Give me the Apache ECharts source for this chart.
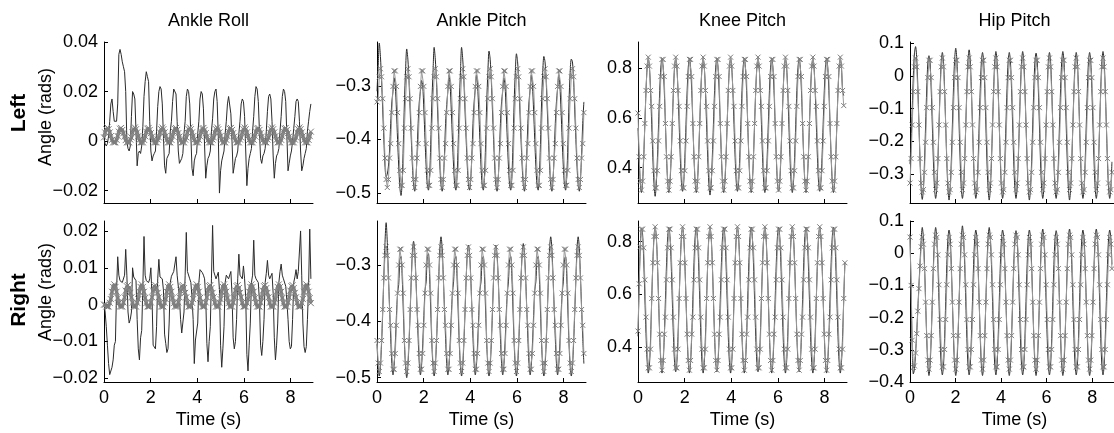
<!DOCTYPE html>
<html>
<head>
<meta charset="utf-8">
<script src="https://cdn.jsdelivr.net/npm/echarts@6/dist/echarts.min.js"></script>
<style>
html, body {margin: 0; padding: 0; background: #fff;}
#chart {width: 1114px; height: 433px;}
</style>
</head>
<body>
<div id="chart"></div>
<script>
// sample step in seconds (about 12 samples per gait cycle)
const dt = 0.049;

const columnTitles = ['Ankle Roll', 'Ankle Pitch', 'Knee Pitch', 'Hip Pitch'];
const rowTitles = ['Left', 'Right'];
const timeTicks = [0, 2, 4, 6, 8];

// ---- Ankle roll (rad) ----
const ankleRollLeftRef = [
  0.0015, 0.0035, 0.0048, 0.0055, 0.0048, 0.0035, 0.002, 0.0005, -0.0005, -0.0005, -0.0005, 0.0005,
  0.002, 0.0038, 0.005, 0.0053, 0.0045, 0.0032, 0.0018, 0.0004, -0.0005, -0.0005, -0.0005, 0.0006,
  0.0015, 0.0035, 0.0048, 0.0055, 0.0048, 0.0035, 0.002, 0.0005, -0.0005, -0.0005, -0.0005, 0.0005,
  0.002, 0.0038, 0.005, 0.0053, 0.0045, 0.0032, 0.0018, 0.0004, -0.0005, -0.0005, -0.0005, 0.0006,
  0.0015, 0.0035, 0.0048, 0.0055, 0.0048, 0.0035, 0.002, 0.0005, -0.0005, -0.0005, -0.0005, 0.0005,
  0.002, 0.0038, 0.005, 0.0053, 0.0045, 0.0032, 0.0018, 0.0004, -0.0005, -0.0005, -0.0005, 0.0006,
  0.0015, 0.0035, 0.0048, 0.0055, 0.0048, 0.0035, 0.002, 0.0005, -0.0005, -0.0005, -0.0005, 0.0005,
  0.002, 0.0038, 0.005, 0.0053, 0.0045, 0.0032, 0.0018, 0.0004, -0.0005, -0.0005, -0.0005, 0.0006,
  0.0015, 0.0035, 0.0048, 0.0055, 0.0048, 0.0035, 0.002, 0.0005, -0.0005, -0.0005, -0.0005, 0.0005,
  0.002, 0.0038, 0.005, 0.0053, 0.0045, 0.0032, 0.0018, 0.0004, -0.0005, -0.0005, -0.0005, 0.0006,
  0.0015, 0.0035, 0.0048, 0.0055, 0.0048, 0.0035, 0.002, 0.0005, -0.0005, -0.0005, -0.0005, 0.0005,
  0.002, 0.0038, 0.005, 0.0053, 0.0045, 0.0032, 0.0018, 0.0004, -0.0005, -0.0005, -0.0005, 0.0006,
  0.0015, 0.0035, 0.0048, 0.0055, 0.0048, 0.0035, 0.002, 0.0005, -0.0005, -0.0005, -0.0005, 0.0005,
  0.002, 0.0038, 0.005, 0.0053, 0.0045, 0.0032, 0.0018, 0.0004, -0.0005, -0.0005, -0.0005, 0.0006,
  0.0015, 0.0035, 0.0048, 0.0055, 0.0048, 0.0035, 0.002, 0.0005, -0.0005, -0.0005, -0.0005, 0.0005,
  0.002, 0.0038
];
const ankleRollLeftAct = [
  0.001, -0.001, -0.002, -0.001, 0.002, 0.008, 0.015, 0.017, 0.012, 0.008, 0.0075, 0.008,
  0.015, 0.035, 0.037, 0.035, 0.032, 0.030, 0.028, 0.020, 0.000, -0.003, -0.004, -0.002,
  0.010, 0.020, 0.019, 0.017, 0.004, -0.010, -0.005, -0.004, -0.005, -0.002, 0.006, 0.018,
  0.024, 0.028, 0.026, 0.024, 0.008, -0.004, -0.008, -0.006, -0.005, -0.004, 0.004, 0.014,
  0.020, 0.022, 0.021, 0.015, 0.002, -0.010, -0.013, -0.007, -0.006, -0.005, 0.004, 0.008,
  0.016, 0.021, 0.021, 0.019, 0.008, -0.004, -0.009, -0.009, -0.007, -0.005, 0.003, 0.008,
  0.018, 0.021, 0.020, 0.015, 0.002, -0.011, -0.014, -0.008, -0.006, -0.005, 0.003, 0.008,
  0.017, 0.020, 0.019, 0.013, -0.002, -0.015, -0.010, -0.007, -0.006, -0.004, 0.004, 0.009,
  0.017, 0.020, 0.021, 0.016, 0.002, -0.021, -0.012, -0.008, -0.006, -0.004, 0.003, 0.008,
  0.015, 0.018, 0.018, 0.011, 0.000, -0.013, -0.010, -0.007, -0.006, -0.004, 0.003, 0.008,
  0.015, 0.017, 0.016, 0.010, -0.004, -0.018, -0.011, -0.007, -0.005, -0.003, 0.004, 0.010,
  0.018, 0.022, 0.021, 0.016, 0.004, -0.007, -0.009, -0.006, -0.005, -0.003, 0.004, 0.012,
  0.018, 0.019, 0.017, 0.008, -0.006, -0.015, -0.009, -0.006, -0.005, -0.003, 0.004, 0.010,
  0.018, 0.021, 0.020, 0.016, 0.002, -0.012, -0.009, -0.006, -0.004, 0.000, 0.005, 0.010,
  0.016, 0.017, 0.016, 0.008, -0.004, -0.012, -0.010, -0.007, -0.005, -0.003, 0.004, 0.008,
  0.012, 0.015
];
const ankleRollRightRef = [
  0, 0, -0.0005, -0.0005, -0.0005, 0.0005, 0.0015, 0.0035, 0.0048, 0.0055, 0.0048, 0.0035,
  0.0018, 0.0004, -0.0005, -0.0005, -0.0005, 0.0006, 0.002, 0.0038, 0.005, 0.0053, 0.0045, 0.0032,
  0.002, 0.0005, -0.0005, -0.0005, -0.0005, 0.0005, 0.0015, 0.0035, 0.0048, 0.0055, 0.0048, 0.0035,
  0.0018, 0.0004, -0.0005, -0.0005, -0.0005, 0.0006, 0.002, 0.0038, 0.005, 0.0053, 0.0045, 0.0032,
  0.002, 0.0005, -0.0005, -0.0005, -0.0005, 0.0005, 0.0015, 0.0035, 0.0048, 0.0055, 0.0048, 0.0035,
  0.0018, 0.0004, -0.0005, -0.0005, -0.0005, 0.0006, 0.002, 0.0038, 0.005, 0.0053, 0.0045, 0.0032,
  0.002, 0.0005, -0.0005, -0.0005, -0.0005, 0.0005, 0.0015, 0.0035, 0.0048, 0.0055, 0.0048, 0.0035,
  0.0018, 0.0004, -0.0005, -0.0005, -0.0005, 0.0006, 0.002, 0.0038, 0.005, 0.0053, 0.0045, 0.0032,
  0.002, 0.0005, -0.0005, -0.0005, -0.0005, 0.0005, 0.0015, 0.0035, 0.0048, 0.0055, 0.0048, 0.0035,
  0.0018, 0.0004, -0.0005, -0.0005, -0.0005, 0.0006, 0.002, 0.0038, 0.005, 0.0053, 0.0045, 0.0032,
  0.002, 0.0005, -0.0005, -0.0005, -0.0005, 0.0005, 0.0015, 0.0035, 0.0048, 0.0055, 0.0048, 0.0035,
  0.0018, 0.0004, -0.0005, -0.0005, -0.0005, 0.0006, 0.002, 0.0038, 0.005, 0.0053, 0.0045, 0.0032,
  0.002, 0.0005, -0.0005, -0.0005, -0.0005, 0.0005, 0.0015, 0.0035, 0.0048, 0.0055, 0.0048, 0.0035,
  0.0018, 0.0004, -0.0005, -0.0005, -0.0005, 0.0006, 0.002, 0.0038, 0.005, 0.0053, 0.0045, 0.0032,
  0.002, 0.0005, -0.0005, -0.0005, -0.0005, 0.0005, 0.0015, 0.0035, 0.0048, 0.0055, 0.0048, 0.0035,
  0.0018, 0.0004
];
const ankleRollRightAct = [
  0.000, -0.002, -0.006, -0.011, -0.016, -0.019, -0.0195, -0.017, -0.015, -0.011, -0.010, 0.004,
  0.013, 0.008, 0.0065, 0.0065, 0.006, 0.006, 0.008, 0.015, 0.008, -0.002, -0.005, -0.004,
  -0.002, 0.010, 0.0075, 0.007, 0.0065, -0.004, -0.012, -0.015, -0.009, -0.007, 0.005, 0.0185,
  0.008, 0.0065, 0.006, 0.006, 0.007, 0.010, 0.002, -0.011, -0.011, -0.012, -0.006, 0.007,
  0.0123, 0.0075, 0.0073, 0.007, 0.004, -0.008, -0.0105, -0.013, -0.012, -0.005, 0.006, 0.0077,
  0.008, 0.009, 0.0095, 0.013, 0.008, 0.008, 0.002, -0.004, -0.0077, -0.0077, -0.002, 0.008,
  0.0196, 0.009, 0.0088, 0.007, 0.006, 0.002, -0.004, -0.016, -0.0096, -0.0096, -0.005, 0.006,
  0.0095, 0.010, 0.0087, 0.008, 0.007, 0.002, -0.0105, -0.0155, -0.010, -0.006, 0.007, 0.0215,
  0.009, 0.008, 0.007, 0.0075, 0.0088, 0.004, -0.011, -0.017, -0.012, -0.006, 0.006, 0.008,
  0.0075, 0.007, 0.0075, 0.009, 0.003, -0.009, -0.012, -0.010, -0.004, 0.007, 0.0137, 0.008,
  0.0075, 0.007, 0.0105, 0.007, 0.002, -0.0135, -0.018, -0.011, -0.005, 0.006, 0.008, 0.0175,
  0.008, 0.007, 0.0075, 0.006, 0.001, -0.011, -0.0138, -0.010, -0.004, 0.006, 0.0085, 0.012,
  0.008, 0.007, 0.007, 0.0085, 0.003, -0.009, -0.015, -0.011, -0.005, 0.006, 0.009, 0.011,
  0.008, 0.007, 0.0065, 0.005, 0.001, -0.004, -0.010, -0.012, -0.0114, -0.004, 0.006, 0.0075,
  0.0095, 0.007, 0.009, 0.0095, 0.020, 0.008, -0.005, -0.0114, -0.013, -0.0114, -0.004, 0.005,
  0.0205, 0.007
];

// ---- Ankle pitch (rad) ----
const anklePitchLeftRef = [
  -0.33, -0.324, -0.283, -0.268, -0.283, -0.324, -0.379, -0.435, -0.475, -0.49, -0.475, -0.435,
  -0.408, -0.35, -0.301, -0.272, -0.272, -0.301, -0.35, -0.408, -0.458, -0.486, -0.486, -0.458,
  -0.379, -0.324, -0.283, -0.268, -0.283, -0.324, -0.379, -0.435, -0.475, -0.49, -0.475, -0.435,
  -0.408, -0.35, -0.301, -0.272, -0.272, -0.301, -0.35, -0.408, -0.458, -0.486, -0.486, -0.458,
  -0.379, -0.324, -0.283, -0.268, -0.283, -0.324, -0.379, -0.435, -0.475, -0.49, -0.475, -0.435,
  -0.408, -0.35, -0.301, -0.272, -0.272, -0.301, -0.35, -0.408, -0.458, -0.486, -0.486, -0.458,
  -0.379, -0.324, -0.283, -0.268, -0.283, -0.324, -0.379, -0.435, -0.475, -0.49, -0.475, -0.435,
  -0.408, -0.35, -0.301, -0.272, -0.272, -0.301, -0.35, -0.408, -0.458, -0.486, -0.486, -0.458,
  -0.379, -0.324, -0.283, -0.268, -0.283, -0.324, -0.379, -0.435, -0.475, -0.49, -0.475, -0.435,
  -0.408, -0.35, -0.301, -0.272, -0.272, -0.301, -0.35, -0.408, -0.458, -0.486, -0.486, -0.458,
  -0.379, -0.324, -0.283, -0.268, -0.283, -0.324, -0.379, -0.435, -0.475, -0.49, -0.475, -0.435,
  -0.408, -0.35, -0.301, -0.272, -0.272, -0.301, -0.35, -0.408, -0.458, -0.486, -0.486, -0.458,
  -0.379, -0.324, -0.283, -0.268, -0.283, -0.324, -0.379, -0.435, -0.475, -0.49, -0.475, -0.435,
  -0.408, -0.35, -0.301, -0.272, -0.272, -0.301, -0.35, -0.408, -0.458, -0.486, -0.486, -0.458,
  -0.379, -0.324, -0.283, -0.268, -0.283, -0.324, -0.379, -0.435, -0.475, -0.49, -0.475, -0.435,
  -0.408, -0.35
];
const anklePitchLeftAct = [
  -0.31, -0.265, -0.22, -0.245, -0.29, -0.345, -0.40, -0.45, -0.47, -0.465, -0.45, -0.42,
  -0.37, -0.33, -0.31, -0.285, -0.30, -0.345, -0.40, -0.45, -0.49, -0.505, -0.48, -0.41,
  -0.33, -0.27, -0.231, -0.25, -0.29, -0.345, -0.40, -0.45, -0.485, -0.497, -0.475, -0.43,
  -0.37, -0.33, -0.31, -0.29, -0.30, -0.345, -0.40, -0.45, -0.485, -0.495, -0.47, -0.41,
  -0.33, -0.275, -0.228, -0.25, -0.29, -0.345, -0.40, -0.45, -0.485, -0.497, -0.475, -0.43,
  -0.37, -0.335, -0.31, -0.28, -0.30, -0.345, -0.40, -0.45, -0.485, -0.495, -0.47, -0.41,
  -0.33, -0.275, -0.228, -0.25, -0.29, -0.345, -0.40, -0.45, -0.485, -0.495, -0.475, -0.43,
  -0.37, -0.33, -0.305, -0.28, -0.30, -0.345, -0.40, -0.45, -0.485, -0.495, -0.47, -0.41,
  -0.33, -0.275, -0.235, -0.25, -0.29, -0.345, -0.40, -0.45, -0.485, -0.497, -0.475, -0.43,
  -0.37, -0.33, -0.31, -0.285, -0.30, -0.345, -0.40, -0.45, -0.485, -0.495, -0.47, -0.41,
  -0.33, -0.275, -0.24, -0.255, -0.29, -0.345, -0.40, -0.45, -0.485, -0.497, -0.475, -0.43,
  -0.37, -0.33, -0.305, -0.28, -0.30, -0.345, -0.40, -0.45, -0.485, -0.495, -0.47, -0.41,
  -0.33, -0.275, -0.245, -0.255, -0.29, -0.345, -0.40, -0.45, -0.485, -0.497, -0.475, -0.43,
  -0.37, -0.33, -0.305, -0.28, -0.30, -0.345, -0.40, -0.45, -0.485, -0.495, -0.47, -0.41,
  -0.33, -0.275, -0.25, -0.255, -0.29, -0.345, -0.40, -0.45, -0.485, -0.497, -0.475, -0.43,
  -0.37, -0.33
];
const anklePitchRightRef = [
  -0.434, -0.474, -0.489, -0.474, -0.434, -0.379, -0.323, -0.283, -0.268, -0.283, -0.323, -0.379,
  -0.407, -0.457, -0.485, -0.485, -0.457, -0.407, -0.35, -0.3, -0.272, -0.272, -0.3, -0.35,
  -0.434, -0.474, -0.489, -0.474, -0.434, -0.379, -0.323, -0.283, -0.268, -0.283, -0.323, -0.379,
  -0.407, -0.457, -0.485, -0.485, -0.457, -0.407, -0.35, -0.3, -0.272, -0.272, -0.3, -0.35,
  -0.434, -0.474, -0.489, -0.474, -0.434, -0.379, -0.323, -0.283, -0.268, -0.283, -0.323, -0.379,
  -0.407, -0.457, -0.485, -0.485, -0.457, -0.407, -0.35, -0.3, -0.272, -0.272, -0.3, -0.35,
  -0.434, -0.474, -0.489, -0.474, -0.434, -0.379, -0.323, -0.283, -0.268, -0.283, -0.323, -0.379,
  -0.407, -0.457, -0.485, -0.485, -0.457, -0.407, -0.35, -0.3, -0.272, -0.272, -0.3, -0.35,
  -0.434, -0.474, -0.489, -0.474, -0.434, -0.379, -0.323, -0.283, -0.268, -0.283, -0.323, -0.379,
  -0.407, -0.457, -0.485, -0.485, -0.457, -0.407, -0.35, -0.3, -0.272, -0.272, -0.3, -0.35,
  -0.434, -0.474, -0.489, -0.474, -0.434, -0.379, -0.323, -0.283, -0.268, -0.283, -0.323, -0.379,
  -0.407, -0.457, -0.485, -0.485, -0.457, -0.407, -0.35, -0.3, -0.272, -0.272, -0.3, -0.35,
  -0.434, -0.474, -0.489, -0.474, -0.434, -0.379, -0.323, -0.283, -0.268, -0.283, -0.323, -0.379,
  -0.407, -0.457, -0.485, -0.485, -0.457, -0.407, -0.35, -0.3, -0.272, -0.272, -0.3, -0.35,
  -0.434, -0.474, -0.489, -0.474, -0.434, -0.379, -0.323, -0.283, -0.268, -0.283, -0.323, -0.379,
  -0.407, -0.457
];
const anklePitchRightAct = [
  -0.44, -0.48, -0.497, -0.48, -0.44, -0.385, -0.32, -0.26, -0.225, -0.26, -0.32, -0.375,
  -0.43, -0.475, -0.495, -0.478, -0.44, -0.39, -0.35, -0.335, -0.29, -0.285, -0.32, -0.38,
  -0.44, -0.48, -0.5, -0.48, -0.44, -0.385, -0.325, -0.275, -0.258, -0.275, -0.32, -0.375,
  -0.43, -0.475, -0.495, -0.478, -0.44, -0.39, -0.345, -0.33, -0.285, -0.28, -0.32, -0.38,
  -0.44, -0.48, -0.497, -0.48, -0.44, -0.385, -0.325, -0.27, -0.25, -0.27, -0.32, -0.375,
  -0.43, -0.475, -0.495, -0.478, -0.44, -0.39, -0.35, -0.33, -0.29, -0.285, -0.32, -0.38,
  -0.44, -0.48, -0.497, -0.48, -0.44, -0.385, -0.325, -0.28, -0.265, -0.28, -0.32, -0.375,
  -0.43, -0.475, -0.495, -0.478, -0.44, -0.39, -0.345, -0.33, -0.29, -0.285, -0.32, -0.38,
  -0.44, -0.48, -0.497, -0.48, -0.44, -0.385, -0.325, -0.28, -0.265, -0.28, -0.32, -0.375,
  -0.43, -0.475, -0.495, -0.478, -0.44, -0.39, -0.35, -0.33, -0.29, -0.285, -0.32, -0.38,
  -0.44, -0.48, -0.497, -0.48, -0.44, -0.385, -0.325, -0.28, -0.262, -0.28, -0.32, -0.375,
  -0.43, -0.475, -0.495, -0.478, -0.44, -0.39, -0.345, -0.33, -0.29, -0.285, -0.32, -0.38,
  -0.44, -0.48, -0.497, -0.48, -0.44, -0.385, -0.325, -0.27, -0.25, -0.27, -0.32, -0.375,
  -0.43, -0.475, -0.495, -0.478, -0.44, -0.39, -0.35, -0.33, -0.29, -0.285, -0.32, -0.38,
  -0.44, -0.48, -0.497, -0.48, -0.44, -0.385, -0.325, -0.27, -0.25, -0.27, -0.32, -0.375,
  -0.43, -0.475
];

// ---- Knee pitch (rad) ----
const kneePitchLeftRef = [
  0.62, 0.444, 0.346, 0.31, 0.346, 0.444, 0.578, 0.711, 0.809, 0.845, 0.809, 0.711,
  0.647, 0.508, 0.388, 0.319, 0.319, 0.388, 0.508, 0.647, 0.767, 0.836, 0.836, 0.767,
  0.578, 0.444, 0.346, 0.31, 0.346, 0.444, 0.578, 0.711, 0.809, 0.845, 0.809, 0.711,
  0.647, 0.508, 0.388, 0.319, 0.319, 0.388, 0.508, 0.647, 0.767, 0.836, 0.836, 0.767,
  0.578, 0.444, 0.346, 0.31, 0.346, 0.444, 0.578, 0.711, 0.809, 0.845, 0.809, 0.711,
  0.647, 0.508, 0.388, 0.319, 0.319, 0.388, 0.508, 0.647, 0.767, 0.836, 0.836, 0.767,
  0.578, 0.444, 0.346, 0.31, 0.346, 0.444, 0.578, 0.711, 0.809, 0.845, 0.809, 0.711,
  0.647, 0.508, 0.388, 0.319, 0.319, 0.388, 0.508, 0.647, 0.767, 0.836, 0.836, 0.767,
  0.578, 0.444, 0.346, 0.31, 0.346, 0.444, 0.578, 0.711, 0.809, 0.845, 0.809, 0.711,
  0.647, 0.508, 0.388, 0.319, 0.319, 0.388, 0.508, 0.647, 0.767, 0.836, 0.836, 0.767,
  0.578, 0.444, 0.346, 0.31, 0.346, 0.444, 0.578, 0.711, 0.809, 0.845, 0.809, 0.711,
  0.647, 0.508, 0.388, 0.319, 0.319, 0.388, 0.508, 0.647, 0.767, 0.836, 0.836, 0.767,
  0.578, 0.444, 0.346, 0.31, 0.346, 0.444, 0.578, 0.711, 0.809, 0.845, 0.809, 0.711,
  0.647, 0.508, 0.388, 0.319, 0.319, 0.388, 0.508, 0.647, 0.767, 0.836, 0.836, 0.767,
  0.578, 0.444, 0.346, 0.31, 0.346, 0.444, 0.578, 0.711, 0.809, 0.845, 0.809, 0.711,
  0.65
];
const kneePitchLeftAct = [
  0.56, 0.44, 0.34, 0.30, 0.34, 0.44, 0.575, 0.71, 0.805, 0.84, 0.805, 0.71,
  0.575, 0.44, 0.335, 0.285, 0.335, 0.44, 0.575, 0.71, 0.805, 0.84, 0.805, 0.71,
  0.575, 0.44, 0.34, 0.30, 0.34, 0.44, 0.575, 0.71, 0.805, 0.84, 0.805, 0.71,
  0.575, 0.44, 0.34, 0.305, 0.34, 0.44, 0.575, 0.71, 0.805, 0.84, 0.805, 0.71,
  0.575, 0.44, 0.34, 0.30, 0.34, 0.44, 0.575, 0.71, 0.805, 0.84, 0.805, 0.71,
  0.575, 0.44, 0.335, 0.29, 0.335, 0.44, 0.575, 0.71, 0.805, 0.84, 0.805, 0.71,
  0.575, 0.44, 0.34, 0.30, 0.34, 0.44, 0.575, 0.71, 0.805, 0.84, 0.805, 0.71,
  0.575, 0.44, 0.34, 0.305, 0.34, 0.44, 0.575, 0.71, 0.805, 0.84, 0.805, 0.71,
  0.575, 0.44, 0.34, 0.30, 0.34, 0.44, 0.575, 0.71, 0.805, 0.84, 0.805, 0.71,
  0.575, 0.44, 0.34, 0.30, 0.34, 0.44, 0.575, 0.71, 0.805, 0.84, 0.805, 0.71,
  0.575, 0.44, 0.34, 0.305, 0.34, 0.44, 0.575, 0.71, 0.805, 0.84, 0.805, 0.71,
  0.575, 0.44, 0.34, 0.30, 0.34, 0.44, 0.575, 0.71, 0.805, 0.84, 0.805, 0.71,
  0.575, 0.44, 0.34, 0.30, 0.34, 0.44, 0.575, 0.71, 0.805, 0.84, 0.805, 0.71,
  0.575, 0.44, 0.34, 0.305, 0.34, 0.44, 0.575, 0.71, 0.805, 0.84, 0.805, 0.71,
  0.575, 0.44, 0.34, 0.30, 0.34, 0.44, 0.575, 0.71, 0.805, 0.84, 0.805, 0.71,
  0.69
];
const kneePitchRightRef = [
  0.46, 0.64, 0.78, 0.848, 0.848, 0.777, 0.655, 0.513, 0.391, 0.32, 0.32, 0.391,
  0.584, 0.72, 0.82, 0.857, 0.82, 0.72, 0.584, 0.448, 0.348, 0.311, 0.348, 0.448,
  0.513, 0.655, 0.777, 0.848, 0.848, 0.777, 0.655, 0.513, 0.391, 0.32, 0.32, 0.391,
  0.584, 0.72, 0.82, 0.857, 0.82, 0.72, 0.584, 0.448, 0.348, 0.311, 0.348, 0.448,
  0.513, 0.655, 0.777, 0.848, 0.848, 0.777, 0.655, 0.513, 0.391, 0.32, 0.32, 0.391,
  0.584, 0.72, 0.82, 0.857, 0.82, 0.72, 0.584, 0.448, 0.348, 0.311, 0.348, 0.448,
  0.513, 0.655, 0.777, 0.848, 0.848, 0.777, 0.655, 0.513, 0.391, 0.32, 0.32, 0.391,
  0.584, 0.72, 0.82, 0.857, 0.82, 0.72, 0.584, 0.448, 0.348, 0.311, 0.348, 0.448,
  0.513, 0.655, 0.777, 0.848, 0.848, 0.777, 0.655, 0.513, 0.391, 0.32, 0.32, 0.391,
  0.584, 0.72, 0.82, 0.857, 0.82, 0.72, 0.584, 0.448, 0.348, 0.311, 0.348, 0.448,
  0.513, 0.655, 0.777, 0.848, 0.848, 0.777, 0.655, 0.513, 0.391, 0.32, 0.32, 0.391,
  0.584, 0.72, 0.82, 0.857, 0.82, 0.72, 0.584, 0.448, 0.348, 0.311, 0.348, 0.448,
  0.513, 0.655, 0.777, 0.848, 0.848, 0.777, 0.655, 0.513, 0.391, 0.32, 0.32, 0.391,
  0.584, 0.72, 0.82, 0.857, 0.82, 0.72, 0.584, 0.448, 0.348, 0.311, 0.348, 0.448,
  0.513, 0.655, 0.777, 0.848, 0.848, 0.777, 0.655, 0.513, 0.391, 0.32, 0.32, 0.391,
  0.584, 0.72
];
const kneePitchRightAct = [
  0.44, 0.63, 0.78, 0.85, 0.83, 0.73, 0.59, 0.45, 0.345, 0.30, 0.33, 0.43,
  0.58, 0.72, 0.82, 0.855, 0.82, 0.72, 0.58, 0.44, 0.34, 0.30, 0.34, 0.44,
  0.58, 0.72, 0.82, 0.855, 0.82, 0.72, 0.58, 0.44, 0.34, 0.305, 0.34, 0.44,
  0.58, 0.72, 0.82, 0.855, 0.82, 0.72, 0.58, 0.44, 0.34, 0.30, 0.34, 0.44,
  0.58, 0.72, 0.82, 0.855, 0.82, 0.72, 0.58, 0.44, 0.34, 0.30, 0.34, 0.44,
  0.58, 0.72, 0.82, 0.855, 0.82, 0.72, 0.58, 0.44, 0.34, 0.305, 0.34, 0.44,
  0.58, 0.72, 0.82, 0.855, 0.82, 0.72, 0.58, 0.44, 0.34, 0.30, 0.34, 0.44,
  0.58, 0.72, 0.82, 0.855, 0.82, 0.72, 0.58, 0.44, 0.34, 0.30, 0.34, 0.44,
  0.58, 0.72, 0.82, 0.855, 0.82, 0.72, 0.58, 0.44, 0.34, 0.305, 0.34, 0.44,
  0.58, 0.72, 0.82, 0.855, 0.82, 0.72, 0.58, 0.44, 0.34, 0.30, 0.34, 0.44,
  0.58, 0.72, 0.82, 0.855, 0.82, 0.72, 0.58, 0.44, 0.34, 0.30, 0.34, 0.44,
  0.58, 0.72, 0.82, 0.855, 0.82, 0.72, 0.58, 0.44, 0.34, 0.305, 0.34, 0.44,
  0.58, 0.72, 0.82, 0.855, 0.82, 0.72, 0.58, 0.44, 0.34, 0.30, 0.34, 0.44,
  0.58, 0.72, 0.82, 0.855, 0.82, 0.72, 0.58, 0.44, 0.34, 0.30, 0.34, 0.44,
  0.58, 0.72, 0.82, 0.855, 0.82, 0.72, 0.58, 0.44, 0.34, 0.30, 0.34, 0.44,
  0.58, 0.72
];

// ---- Hip pitch (rad) ----
const hipPitchLeftRef = [
  -0.328, -0.253, -0.15, -0.048, 0.028, 0.055, 0.028, -0.048, -0.15, -0.253, -0.328, -0.355,
  -0.348, -0.295, -0.203, -0.097, -0.005, 0.048, 0.048, -0.005, -0.097, -0.203, -0.295, -0.348,
  -0.328, -0.253, -0.15, -0.048, 0.028, 0.055, 0.028, -0.048, -0.15, -0.253, -0.328, -0.355,
  -0.348, -0.295, -0.203, -0.097, -0.005, 0.048, 0.048, -0.005, -0.097, -0.203, -0.295, -0.348,
  -0.328, -0.253, -0.15, -0.048, 0.028, 0.055, 0.028, -0.048, -0.15, -0.253, -0.328, -0.355,
  -0.348, -0.295, -0.203, -0.097, -0.005, 0.048, 0.048, -0.005, -0.097, -0.203, -0.295, -0.348,
  -0.328, -0.253, -0.15, -0.048, 0.028, 0.055, 0.028, -0.048, -0.15, -0.253, -0.328, -0.355,
  -0.348, -0.295, -0.203, -0.097, -0.005, 0.048, 0.048, -0.005, -0.097, -0.203, -0.295, -0.348,
  -0.328, -0.253, -0.15, -0.048, 0.028, 0.055, 0.028, -0.048, -0.15, -0.253, -0.328, -0.355,
  -0.348, -0.295, -0.203, -0.097, -0.005, 0.048, 0.048, -0.005, -0.097, -0.203, -0.295, -0.348,
  -0.328, -0.253, -0.15, -0.048, 0.028, 0.055, 0.028, -0.048, -0.15, -0.253, -0.328, -0.355,
  -0.348, -0.295, -0.203, -0.097, -0.005, 0.048, 0.048, -0.005, -0.097, -0.203, -0.295, -0.348,
  -0.328, -0.253, -0.15, -0.048, 0.028, 0.055, 0.028, -0.048, -0.15, -0.253, -0.328, -0.355,
  -0.348, -0.295, -0.203, -0.097, -0.005, 0.048, 0.048, -0.005, -0.097, -0.203, -0.295, -0.348,
  -0.328, -0.253, -0.15, -0.048, 0.028, 0.055, 0.028, -0.048, -0.15, -0.253, -0.328, -0.355,
  -0.348, -0.295
];
const hipPitchLeftAct = [
  -0.27, -0.2, -0.1, 0.0, 0.07, 0.09, 0.055, -0.03, -0.145, -0.26, -0.345, -0.378,
  -0.345, -0.263, -0.15, -0.04, 0.04, 0.062, 0.04, -0.04, -0.15, -0.263, -0.345, -0.375,
  -0.345, -0.263, -0.15, -0.038, 0.045, 0.072, 0.045, -0.038, -0.15, -0.263, -0.345, -0.38,
  -0.345, -0.263, -0.15, -0.036, 0.05, 0.085, 0.05, -0.036, -0.15, -0.263, -0.345, -0.375,
  -0.345, -0.263, -0.15, -0.036, 0.05, 0.08, 0.048, -0.038, -0.15, -0.263, -0.345, -0.375,
  -0.345, -0.263, -0.15, -0.038, 0.045, 0.072, 0.045, -0.038, -0.15, -0.263, -0.345, -0.38,
  -0.345, -0.263, -0.15, -0.038, 0.045, 0.075, 0.045, -0.038, -0.15, -0.263, -0.345, -0.375,
  -0.345, -0.263, -0.15, -0.038, 0.045, 0.072, 0.045, -0.038, -0.15, -0.263, -0.345, -0.375,
  -0.345, -0.263, -0.15, -0.038, 0.045, 0.075, 0.045, -0.038, -0.15, -0.263, -0.345, -0.38,
  -0.345, -0.263, -0.15, -0.038, 0.045, 0.07, 0.045, -0.038, -0.15, -0.263, -0.345, -0.375,
  -0.345, -0.263, -0.15, -0.038, 0.045, 0.072, 0.045, -0.038, -0.15, -0.263, -0.345, -0.375,
  -0.345, -0.263, -0.15, -0.038, 0.045, 0.075, 0.045, -0.038, -0.15, -0.263, -0.345, -0.38,
  -0.345, -0.263, -0.15, -0.038, 0.045, 0.072, 0.045, -0.038, -0.15, -0.263, -0.345, -0.375,
  -0.345, -0.263, -0.15, -0.038, 0.045, 0.072, 0.045, -0.038, -0.15, -0.263, -0.345, -0.375,
  -0.345, -0.263, -0.15, -0.038, 0.045, 0.075, 0.045, -0.038, -0.15, -0.263, -0.345, -0.375,
  -0.345, -0.263
];
const hipPitchRightRef = [
  0.05, -0.10, -0.27, -0.355, -0.35, -0.31, -0.25, -0.18, -0.11, -0.04, 0.02, 0.05,
  0.028, -0.048, -0.152, -0.256, -0.332, -0.36, -0.332, -0.256, -0.152, -0.048, 0.028, 0.056,
  0.049, -0.005, -0.098, -0.206, -0.299, -0.353, -0.353, -0.299, -0.206, -0.098, -0.005, 0.049,
  0.028, -0.048, -0.152, -0.256, -0.332, -0.36, -0.332, -0.256, -0.152, -0.048, 0.028, 0.056,
  0.049, -0.005, -0.098, -0.206, -0.299, -0.353, -0.353, -0.299, -0.206, -0.098, -0.005, 0.049,
  0.028, -0.048, -0.152, -0.256, -0.332, -0.36, -0.332, -0.256, -0.152, -0.048, 0.028, 0.056,
  0.049, -0.005, -0.098, -0.206, -0.299, -0.353, -0.353, -0.299, -0.206, -0.098, -0.005, 0.049,
  0.028, -0.048, -0.152, -0.256, -0.332, -0.36, -0.332, -0.256, -0.152, -0.048, 0.028, 0.056,
  0.049, -0.005, -0.098, -0.206, -0.299, -0.353, -0.353, -0.299, -0.206, -0.098, -0.005, 0.049,
  0.028, -0.048, -0.152, -0.256, -0.332, -0.36, -0.332, -0.256, -0.152, -0.048, 0.028, 0.056,
  0.049, -0.005, -0.098, -0.206, -0.299, -0.353, -0.353, -0.299, -0.206, -0.098, -0.005, 0.049,
  0.028, -0.048, -0.152, -0.256, -0.332, -0.36, -0.332, -0.256, -0.152, -0.048, 0.028, 0.056,
  0.049, -0.005, -0.098, -0.206, -0.299, -0.353, -0.353, -0.299, -0.206, -0.098, -0.005, 0.049,
  0.028, -0.048, -0.152, -0.256, -0.332, -0.36, -0.332, -0.256, -0.152, -0.048, 0.028, 0.056,
  0.049, -0.005, -0.098, -0.206, -0.299, -0.353, -0.353, -0.299, -0.206, -0.098, -0.005, 0.049,
  0.028, -0.048
];
const hipPitchRightAct = [
  0.06, -0.12, -0.3, -0.375, -0.36, -0.31, -0.25, -0.175, -0.1, -0.03, 0.04, 0.08,
  0.049, -0.035, -0.15, -0.265, -0.349, -0.38, -0.349, -0.265, -0.15, -0.035, 0.049, 0.08,
  0.045, -0.035, -0.15, -0.265, -0.349, -0.378, -0.349, -0.265, -0.15, -0.035, 0.045, 0.072,
  0.049, -0.035, -0.15, -0.265, -0.349, -0.38, -0.349, -0.265, -0.15, -0.035, 0.049, 0.085,
  0.045, -0.035, -0.15, -0.265, -0.349, -0.378, -0.349, -0.265, -0.15, -0.035, 0.045, 0.072,
  0.049, -0.035, -0.15, -0.265, -0.349, -0.38, -0.349, -0.265, -0.15, -0.035, 0.049, 0.08,
  0.045, -0.035, -0.15, -0.265, -0.349, -0.378, -0.349, -0.265, -0.15, -0.035, 0.045, 0.072,
  0.049, -0.035, -0.15, -0.265, -0.349, -0.38, -0.349, -0.265, -0.15, -0.035, 0.045, 0.07,
  0.045, -0.035, -0.15, -0.265, -0.349, -0.378, -0.349, -0.265, -0.15, -0.035, 0.045, 0.072,
  0.049, -0.035, -0.15, -0.265, -0.349, -0.38, -0.349, -0.265, -0.15, -0.035, 0.049, 0.075,
  0.045, -0.035, -0.15, -0.265, -0.349, -0.378, -0.349, -0.265, -0.15, -0.035, 0.045, 0.07,
  0.049, -0.035, -0.15, -0.265, -0.349, -0.38, -0.349, -0.265, -0.15, -0.035, 0.049, 0.075,
  0.045, -0.035, -0.15, -0.265, -0.349, -0.378, -0.349, -0.265, -0.15, -0.035, 0.045, 0.072,
  0.049, -0.035, -0.15, -0.265, -0.349, -0.38, -0.349, -0.265, -0.15, -0.035, 0.049, 0.075,
  0.045, -0.035, -0.15, -0.265, -0.349, -0.378, -0.349, -0.265, -0.15, -0.035, 0.045, 0.072,
  0.049, -0.035
];

// ---- panel setup ----
const FONT = '"Liberation Sans", Arial, Helvetica, sans-serif';
const PLOT_W = 209, PLOT_H = 161;
const colLeft = [104, 377, 638, 910];
const rowTop = [42, 221];
const crossSymbol = 'path://M0,0L10,10M10,0L0,10';

// roll panels: reference trace drawn as a thick band (dense markers in the original)
const panels = [
  {row: 0, col: 0, ref: ankleRollLeftRef, act: ankleRollLeftAct, min: -0.025, max: 0.04, ticks: [-0.02, 0, 0.02, 0.04], smooth: false, band: true},
  {row: 0, col: 1, ref: anklePitchLeftRef, act: anklePitchLeftAct, min: -0.519, max: -0.218, ticks: [-0.5, -0.4, -0.3], smooth: 0.3},
  {row: 0, col: 2, ref: kneePitchLeftRef, act: kneePitchLeftAct, min: 0.258, max: 0.906, ticks: [0.4, 0.6, 0.8], smooth: 0.3},
  {row: 0, col: 3, ref: hipPitchLeftRef, act: hipPitchLeftAct, min: -0.389, max: 0.104, ticks: [-0.3, -0.2, -0.1, 0, 0.1], smooth: 0.3},
  {row: 1, col: 0, ref: ankleRollRightRef, act: ankleRollRightAct, min: -0.021, max: 0.0227, ticks: [-0.02, -0.01, 0, 0.01, 0.02], smooth: false, band: true},
  {row: 1, col: 1, ref: anklePitchRightRef, act: anklePitchRightAct, min: -0.5076, max: -0.222, ticks: [-0.5, -0.4, -0.3], smooth: 0.3},
  {row: 1, col: 2, ref: kneePitchRightRef, act: kneePitchRightAct, min: 0.266, max: 0.879, ticks: [0.4, 0.6, 0.8], smooth: 0.3},
  {row: 1, col: 3, ref: hipPitchRightRef, act: hipPitchRightAct, min: -0.4, max: 0.1, ticks: [-0.4, -0.3, -0.2, -0.1, 0, 0.1], smooth: 0.3},
];

function toPoints(arr) {
    return arr.map((v, i) => [Math.round(i * dt * 1000) / 1000, v]);
}

function fmtTick(v) {
    return String(Math.round(v * 10000) / 10000).replace('-', '\u2212');
}

const grid = [], xAxis = [], yAxis = [], series = [];
panels.forEach((p, k) => {
    grid.push({left: colLeft[p.col], top: rowTop[p.row], width: PLOT_W, height: PLOT_H, containLabel: false});
    xAxis.push({
        gridIndex: k,
        type: 'value',
        min: 0,
        max: 8.96,
        axisLine: {show: true, onZero: false, lineStyle: {color: '#000', width: 1}},
        axisTick: {show: true, inside: true, length: 4, customValues: timeTicks, lineStyle: {color: '#000'}},
        axisLabel: {
            show: p.row === 1,
            customValues: timeTicks,
            margin: 7,
            color: '#000',
            fontSize: 18,
            fontFamily: FONT,
        },
        splitLine: {show: false},
    });
    yAxis.push({
        gridIndex: k,
        type: 'value',
        min: p.min,
        max: p.max,
        axisLine: {show: true, onZero: false, lineStyle: {color: '#000', width: 1}},
        axisTick: {show: true, inside: true, length: 4, customValues: p.ticks, lineStyle: {color: '#000'}},
        axisLabel: {
            customValues: p.ticks,
            formatter: fmtTick,
            margin: 6,
            color: '#000',
            fontSize: 18,
            fontFamily: FONT,
            showMinLabel: true,
            showMaxLabel: true,
        },
        splitLine: {show: false},
    });
    series.push({
        type: 'line',
        xAxisIndex: k,
        yAxisIndex: k,
        data: toPoints(p.act),
        showSymbol: false,
        smooth: p.smooth,
        lineStyle: {color: '#2b2b2b', width: 1},
        emphasis: {disabled: true},
    });
    series.push({
        type: 'line',
        xAxisIndex: k,
        yAxisIndex: k,
        data: toPoints(p.ref),
        symbol: crossSymbol,
        symbolSize: p.band ? 6 : 5,
        showAllSymbol: true,
        lineStyle: p.band ? {color: '#8a8a8a', width: 3.5} : {color: '#9a9a9a', width: 1},
        itemStyle: {color: '#7c7c7c', borderColor: '#7c7c7c', borderWidth: 1},
        emphasis: {disabled: true},
    });
});

const graphic = [];
const textStyle = (text, size, weight) => ({
    text,
    fill: '#000',
    font: `${weight || 'normal'} ${size}px ${FONT}`,
    textAlign: 'center',
    textVerticalAlign: 'middle',
    align: 'center',
    verticalAlign: 'middle',
});
columnTitles.forEach((t, c) => {
    const cx = colLeft[c] + PLOT_W / 2;
    graphic.push({type: 'text', x: cx, y: 21, style: textStyle(t, 18)});
    graphic.push({type: 'text', x: cx, y: 420, style: textStyle('Time (s)', 18)});
});
graphic.push({type: 'text', x: 19, y: 113, rotation: Math.PI / 2, style: textStyle(rowTitles[0], 21, 'bold')});
graphic.push({type: 'text', x: 19.5, y: 300, rotation: Math.PI / 2, style: textStyle(rowTitles[1], 21, 'bold')});
graphic.push({type: 'text', x: 46.5, y: 117, rotation: Math.PI / 2, style: textStyle('Angle (rads)', 18)});
graphic.push({type: 'text', x: 46.5, y: 292, rotation: Math.PI / 2, style: textStyle('Angle (rads)', 18)});

const chart = echarts.init(document.getElementById('chart'), null, {renderer: 'canvas'});
chart.setOption({
    backgroundColor: '#fff',
    animation: false,
    grid,
    xAxis,
    yAxis,
    series,
    graphic,
});
</script>
</body>
</html>
